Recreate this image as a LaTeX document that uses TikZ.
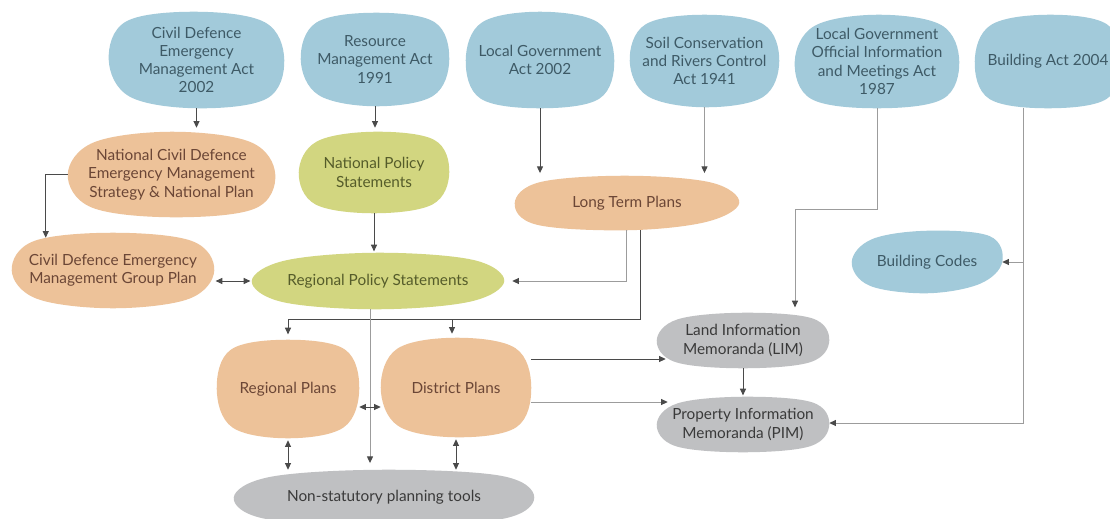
\documentclass[tikz,border=0pt]{standalone}
\usepackage{fontspec}
\setmainfont{Lato}
\usetikzlibrary{calc,arrows.meta}
\pgfdeclarelayer{bg}
\pgfsetlayers{bg,main}
\definecolor{cblue}{HTML}{A2CADA}
\definecolor{corange}{HTML}{EDC299}
\definecolor{cgreen}{HTML}{D2D680}
\definecolor{cgray}{HTML}{BFC0C2}
\definecolor{tblue}{HTML}{3E5A66}
\definecolor{torange}{HTML}{6B4636}
\definecolor{tgreen}{HTML}{555C2A}
\definecolor{tgray}{HTML}{3A3A3A}
\definecolor{ldark}{HTML}{4A4A4A}
\definecolor{llight}{HTML}{9C9C9C}
\newcommand\blobfill[6]{%
  \fill[#2] plot[smooth cycle, tension=0.6] coordinates {(#1.north) ($(#1.north east)!#3!(#1.center)$) (#1.east) ($(#1.south east)!#4!(#1.center)$) (#1.south) ($(#1.south west)!#5!(#1.center)$) (#1.west) ($(#1.north west)!#6!(#1.center)$)};}
\begin{document}
\begin{tikzpicture}[x=0.75pt,y=-0.75pt,
  blob/.style={inner sep=0pt, align=center, draw=none, font=\fontsize{11.5}{13.7}\selectfont},
  sz/.style 2 args={minimum width=#1*0.75pt, minimum height=#2*0.75pt},
  bl/.style={blob, text=tblue},
  orn/.style={blob, text=torange},
  grn/.style={blob, text=tgreen},
  gry/.style={blob, text=tgray},
  tip/.tip={Triangle[length=5pt,width=4.5pt,color=ldark]},
  arr/.style={draw=ldark, line width=0.75pt, -tip},
  arrl/.style={draw=llight, line width=0.75pt, -tip},
  darr/.style={draw=ldark, line width=0.75pt, tip-tip},
  ln/.style={draw=ldark, line width=0.75pt},
]
\useasboundingbox (0,0) rectangle (1110,518);

% blue acts
\node[bl, sz={175}{96}] (cdem) at (196.5,60) {Civil Defence\\Emergency\\Management Act\\2002};
\node[bl, sz={148}{93}] (rma) at (375,59.5) {Resource\\Management Act\\1991};
\node[bl, sz={148}{96}] (lga) at (540,60) {Local Government\\Act 2002};
\node[bl, sz={149}{92}] (soil) at (704.5,61) {Soil Conservation\\and Rivers Control\\Act 1941};
\node[bl, sz={164}{93}] (lgoima) at (877,61.5) {Local Government\\Official Information\\and Meetings Act\\1987};
\node[bl, sz={146}{93}] (bact) at (1048,61.5) {Building Act 2004};
\node[bl, sz={150}{62}] (bcodes) at (927,262) {Building Codes};

% orange
\node[orn, sz={207}{85}] (ncdem) at (171.5,174.5) {National Civil Defence\\Emergency Management\\Strategy \& National Plan};
\node[orn, sz={202}{75}] (cdgp) at (113,270.5) {Civil Defence Emergency\\Management Group Plan};
\node[orn, sz={224}{54}] (ltp) at (627,203) {Long Term Plans};
\node[orn, sz={142}{98}] (regp) at (288,389) {Regional Plans};
\node[orn, sz={150}{99}] (distp) at (456,387.5) {District Plans};

% green
\node[grn, sz={150}{81}] (nps) at (374,172.5) {National Policy\\Statements};
\node[grn, sz={252}{56}] (rps) at (378,281) {Regional Policy Statements};

% gray
\node[gry, sz={300}{55}] (nonstat) at (384,497.5) {Non-statutory planning tools};
\node[gry, sz={172}{55}] (lim) at (743,340.5) {Land Information\\Memoranda (LIM)};
\node[gry, sz={172}{55}] (pim) at (743,424.5) {Property Information\\Memoranda (PIM)};

\begin{pgfonlayer}{bg}
  \fill[white] (0,0) rectangle (1110,518);
  \blobfill{cdem}{cblue}{0.22}{0.2}{0.24}{0.2}
  \blobfill{rma}{cblue}{0.2}{0.22}{0.24}{0.21}
  \blobfill{lga}{cblue}{0.22}{0.2}{0.2}{0.22}
  \blobfill{soil}{cblue}{0.21}{0.22}{0.24}{0.21}
  \blobfill{lgoima}{cblue}{0.22}{0.2}{0.2}{0.24}
  \blobfill{bact}{cblue}{0.2}{0.2}{0.2}{0.22}
  \blobfill{bcodes}{cblue}{0.17}{0.3}{0.24}{0.27}
  \blobfill{ncdem}{corange}{0.24}{0.2}{0.23}{0.25}
  \blobfill{cdgp}{corange}{0.22}{0.25}{0.25}{0.22}
  \blobfill{ltp}{corange}{0.25}{0.3}{0.2}{0.23}
  \blobfill{regp}{corange}{0.2}{0.22}{0.22}{0.2}
  \blobfill{distp}{corange}{0.21}{0.2}{0.23}{0.22}
  \blobfill{nps}{cgreen}{0.2}{0.22}{0.22}{0.24}
  \blobfill{rps}{cgreen}{0.25}{0.27}{0.25}{0.27}
  \blobfill{nonstat}{cgray}{0.22}{0.22}{0.22}{0.25}
  \blobfill{lim}{cgray}{0.2}{0.22}{0.22}{0.24}
  \blobfill{pim}{cgray}{0.2}{0.22}{0.22}{0.24}
\end{pgfonlayer}

% connectors
\draw[arr, shorten >=3pt] (cdem.south) -- (cdem.south |- ncdem.north);
\draw[arr, shorten >=3pt] (rma.south) -- (rma.south |- nps.north);
\draw[arr] (ncdem.west) -| ($(cdgp.north west)+(34,5)$);
\draw[arr, shorten >=1pt] (nps.south) -- (nps.south |- rps.north);
\draw[arr, shorten >=2pt] (lga.south) -- (lga.south |- ltp.north);
\draw[arrl, shorten >=2pt] (soil.south) -- (soil.south |- ltp.north);
\draw[darr, shorten <=1pt, shorten >=1pt] (cdgp.east |- rps.west) -- (rps.west);
\draw[arrl, shorten >=6pt] ($(ltp.south)+(-1,0)$) |- (rps.east);

\coordinate (busL) at (288,319);
\coordinate (busD) at (452,319);
\draw[ln] ($(ltp.south)+(13,0)$) |- (busL);
\draw[arr, shorten >=4pt] (busL) -- (busL |- regp.north);
\draw[arr, shorten >=3pt] (busD) -- (busD |- distp.north);

\coordinate (rs) at ($(rps.south)+(-8,0)$);
\draw[arrl, shorten >=5pt] (rs) -- (rs |- nonstat.north);

\coordinate (rd) at (0,407);
\draw[darr] (regp.east |- rd) -- (distp.west |- rd);
\draw[darr, shorten <=1.5pt] (regp.south) -- (regp.south |- nonstat.north);
\draw[darr, shorten <=1.5pt] (distp.south) -- (distp.south |- nonstat.north);

\coordinate (lk) at (795,209);
\draw[arrl, shorten >=4pt] (lgoima.south) |- (lk) -- (lk |- lim.north);

\coordinate (dl) at (0,359);
\coordinate (dp) at (0,402);
\draw[arr] (distp.east |- dl) -- ($(lim.west |- dl)+(9,0)$);
\draw[arrl] (distp.east |- dp) -- ($(pim.west |- dp)+(11,0)$);
\draw[arr, shorten >=1pt] (lim.south) -- (lim.south |- pim.north);

\coordinate (bk) at (1023,423);
\draw[arrl] (bact.south -| bk) -- (bk) -- (pim.east |- bk);
\draw[arrl] (bcodes.east -| bk) -- (bcodes.east);
\end{tikzpicture}
\end{document}
